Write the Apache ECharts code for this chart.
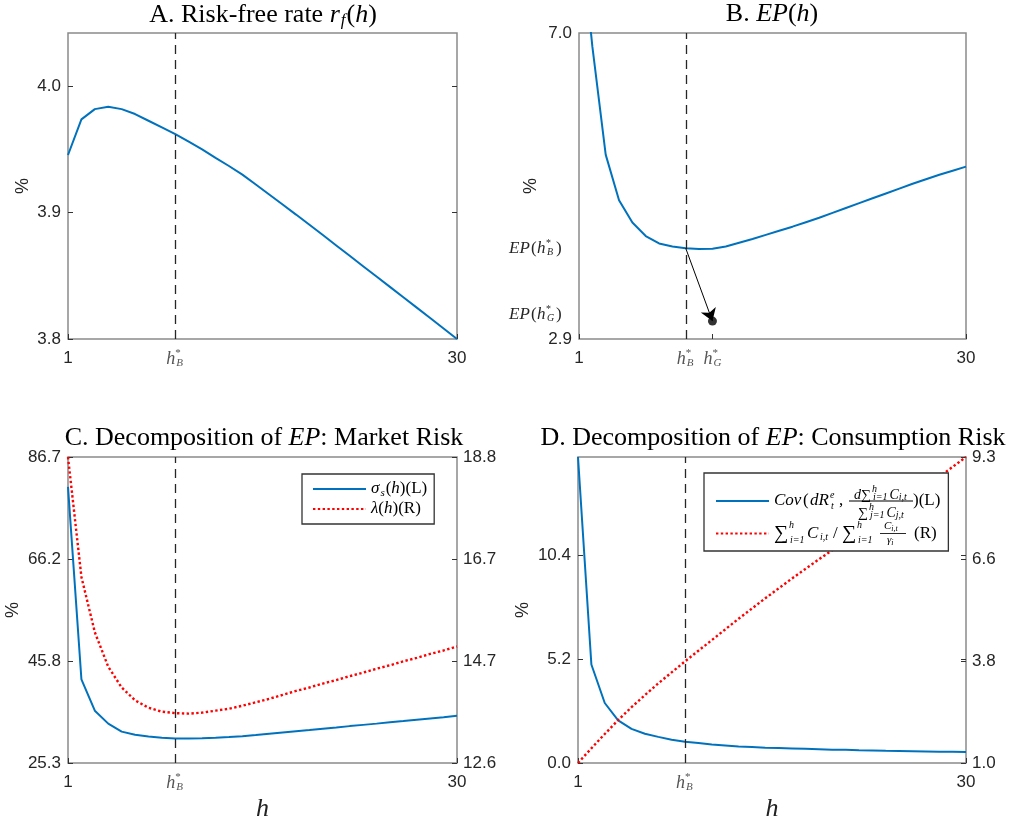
<!DOCTYPE html>
<html>
<head>
<meta charset="utf-8">
<script src="https://cdn.jsdelivr.net/npm/echarts@6/dist/echarts.min.js"></script>
<style>html,body{margin:0;padding:0;background:#fff}#c{width:1019px;height:825px}</style>
</head>
<body>
<div id="c"></div>
<script>
// ---------- data ----------
const hValues = [1,2,3,4,5,6,7,8,9,10,11,12,13,14,15,16,17,18,19,20,21,22,23,24,25,26,27,28,29,30];
const hStarB = 9;
const hStarG = 11;
const riskFreeRate = [3.9455,3.9737,3.9818,3.9836,3.9818,3.9779,3.9726,3.9673,3.962,3.956,3.950,3.9433,3.9368,3.930,3.9222,3.9143,3.9064,3.8984,3.8903,3.8822,3.874,3.8658,3.8576,3.8494,3.8412,3.833,3.8248,3.8166,3.8083,3.800];
const equityPremium = [8.6,6.82,5.37,4.76,4.46,4.28,4.18,4.14,4.115,4.105,4.11,4.14,4.19,4.24,4.295,4.35,4.405,4.465,4.525,4.59,4.655,4.72,4.785,4.85,4.915,4.98,5.04,5.10,5.155,5.21];
const epAtHG = 3.14;
const sigmaS = [80.7,42.1,35.8,33.2,31.6,30.97,30.63,30.37,30.23,30.2,30.25,30.38,30.52,30.68,30.9,31.15,31.4,31.65,31.9,32.17,32.43,32.7,32.95,33.2,33.47,33.73,34.0,34.25,34.5,34.77];
const lambdaH = [18.8,16.37,15.25,14.55,14.13,13.87,13.72,13.64,13.61,13.60,13.62,13.66,13.70,13.76,13.83,13.9,13.98,14.06,14.13,14.21,14.28,14.36,14.43,14.51,14.58,14.66,14.73,14.81,14.88,14.96];
const covConsumption = [15.35,4.94,3.01,2.14,1.71,1.47,1.31,1.17,1.07,1.0,0.93,0.88,0.83,0.80,0.77,0.75,0.73,0.71,0.69,0.67,0.66,0.64,0.63,0.61,0.60,0.59,0.58,0.57,0.56,0.55];
const consumptionRatio = [1.0,1.40,1.79,2.17,2.52,2.85,3.17,3.47,3.77,4.06,4.35,4.64,4.93,5.21,5.49,5.76,6.03,6.29,6.55,6.80,7.05,7.30,7.55,7.80,8.05,8.30,8.55,8.80,9.07,9.34];

// ---------- ticks ----------
const xTicks = [1, hStarB, 30];
const xTicksB = [1, hStarB, hStarG, 30];
const yRangeA = [3.8, 4.042];
const yTicksA = [3.8, 3.9, 4.0];
const yRangeB = [2.9, 7.0];
const yTicksCL = [25.3, 45.77, 66.23, 86.7];
const yTicksCR = [12.6, 14.67, 16.73, 18.8];
const yRangeDL = [0, 15.35];
const yTicksDL = [0, 5.2, 10.4];
const yTicksDR = [1.0, 3.78, 6.56, 9.34];

const epAtHB = equityPremium[hValues.indexOf(hStarB)];
const yTicksB = [2.9, epAtHG, epAtHB, 7.0];

const pairs = arr => hValues.map((h, i) => [h, arr[i]]);

// ---------- styles ----------
const SERIF = 'Liberation Serif';
const SANS = 'Liberation Sans';
const BLUE = '#0072BD';
const RED = '#ff0000';
const BOX = '#8a8a8a';
const TXT = '#262626';

const hRich = {
  hI: {fontFamily: SERIF, fontStyle: 'italic', fontSize: 18, color: '#555', lineHeight: 18, width: 9, align: 'left'},
  hSup: {fontFamily: SERIF, fontSize: 11, color: '#555', width: 1, lineHeight: 18, padding: [0, 0, 11, 0], align: 'left'},
  hSub: {fontFamily: SERIF, fontStyle: 'italic', fontSize: 11, color: '#555', lineHeight: 18, width: 8, padding: [9, 0, 0, 0], align: 'left'}
};
const near = (a, b) => Math.abs(a - b) < 1e-6;
function xFmt(v) {
  if (near(v, hStarB)) return '{hI|h}{hSup|*}{hSub|B}';
  if (near(v, hStarG)) return '{hI|h}{hSup|*}{hSub|G}';
  return String(Math.round(v));
}
const fmt1 = v => v.toFixed(1);

function xAxis(gi, ticks, withName) {
  return {
    type: 'value', gridIndex: gi, min: 1, max: 30,
    axisLine: {show: false},
    splitLine: {show: false},
    axisTick: {show: true, inside: true, length: 5, customValues: ticks, lineStyle: {color: '#333', width: 1}},
    axisLabel: {customValues: ticks, formatter: xFmt, color: TXT, fontFamily: SANS, fontSize: 17, margin: 11, rich: hRich},
    name: withName ? 'h' : '',
    nameLocation: 'middle', nameGap: 33, nameMoveOverlap: false,
    nameTextStyle: {fontFamily: SERIF, fontStyle: 'italic', fontSize: 26, color: '#222'}
  };
}
function yAxis(gi, min, max, ticks, opts) {
  opts = opts || {};
  return {
    type: 'value', gridIndex: gi, min: min, max: max,
    position: opts.position || 'left',
    axisLine: {show: false},
    splitLine: {show: false},
    axisTick: {show: opts.tickShow !== false, inside: true, length: 5, customValues: opts.tickValues || ticks, lineStyle: {color: '#333', width: 1}},
    axisLabel: {show: opts.labelShow !== false, customValues: ticks, formatter: opts.formatter || fmt1, color: TXT, fontFamily: SANS, fontSize: 17, margin: opts.margin || 7, rich: opts.rich},
    name: opts.name || '',
    nameLocation: 'middle', nameRotate: 90, nameGap: opts.nameGap || 40, nameMoveOverlap: false,
    nameTextStyle: {fontFamily: SANS, fontSize: 18, color: TXT}
  };
}

const epRich = {
  eI: {fontFamily: SERIF, fontStyle: 'italic', fontSize: 17, color: TXT, width: 22, align: 'left'},
  eN: {fontFamily: SERIF, fontSize: 17, color: TXT, width: 6, align: 'left'},
  eH: {fontFamily: SERIF, fontStyle: 'italic', fontSize: 17, color: TXT, width: 9, align: 'left'},
  eSup: {fontFamily: SERIF, fontSize: 10, color: TXT, width: 1, padding: [0, 0, 10, 0], align: 'left'},
  eSub: {fontFamily: SERIF, fontStyle: 'italic', fontSize: 10, color: TXT, width: 9, padding: [8, 0, 0, 0], align: 'left'},
  gI: {fontFamily: SERIF, fontStyle: 'italic', fontSize: 17, color: TXT, width: 22, padding: [0, 0, 14, 0], align: 'left'},
  gN: {fontFamily: SERIF, fontSize: 17, color: TXT, width: 6, padding: [0, 0, 14, 0], align: 'left'},
  gH: {fontFamily: SERIF, fontStyle: 'italic', fontSize: 17, color: TXT, width: 9, padding: [0, 0, 14, 0], align: 'left'},
  gSup: {fontFamily: SERIF, fontSize: 10, color: TXT, width: 1, padding: [0, 0, 24, 0], align: 'left'},
  gSub: {fontFamily: SERIF, fontStyle: 'italic', fontSize: 10, color: TXT, width: 9, padding: [8, 0, 14, 0], align: 'left'},
  gapR: {width: 10}
};
function yFmtB(v) {
  if (near(v, epAtHB)) return '{eI|EP}{eN|(}{eH|h}{eSup|*}{eSub|B}{eN|)}{gapR|}';
  if (near(v, epAtHG)) return '{gI|EP}{gN|(}{gH|h}{gSup|*}{gSub|G}{gN|)}{gapR|}';
  return v.toFixed(1);
}

const dashLine = {
  silent: true, symbol: ['none', 'none'], label: {show: false}, animation: false,
  lineStyle: {color: '#262626', type: [9, 6], width: 1.3},
  data: [{xAxis: hStarB}]
};

const titleRich = {
  mi: {fontFamily: SERIF, fontStyle: 'italic', fontSize: 26, color: '#000'},
  sub: {fontFamily: SERIF, fontStyle: 'italic', fontSize: 17, color: '#000', padding: [11, 1, 0, 1]}
};
function title(text, x, y) {
  return {text: text, left: x, top: y, textAlign: 'center', padding: 0,
    textStyle: {fontFamily: SERIF, fontSize: 26, fontWeight: 'normal', color: '#000', rich: titleRich}};
}

// legend C
const legCRich = {
  mi: {fontFamily: SERIF, fontStyle: 'italic', fontSize: 17, lineHeight: 20, color: '#000'},
  n: {fontFamily: SERIF, fontSize: 17, lineHeight: 20, color: '#000'},
  sb: {fontFamily: SERIF, fontStyle: 'italic', fontSize: 11, lineHeight: 20, color: '#000', padding: [8, 1, 0, 1]}
};
const legCText = {
  sigma: '{mi|σ}{sb|s}{n|(}{mi|h}{n|)(L)}',
  lambda: '{mi|λ}{n|(}{mi|h}{n|)(R)}'
};

// legend D
const legDRich = {
  p1: {width: 80, lineHeight: 12},
  p3: {width: 84, lineHeight: 12},
  nI: {fontFamily: SERIF, fontStyle: 'italic', fontSize: 14, lineHeight: 12, padding: [6, 0, 0, 0], color: '#000'},
  nS: {fontFamily: SERIF, fontSize: 14, lineHeight: 12, padding: [6, 1, 0, 0], color: '#000'},
  nSup: {fontFamily: SERIF, fontStyle: 'italic', fontSize: 10, lineHeight: 12, width: 1, padding: [0, 0, 6, 0], color: '#000'},
  nSub: {fontFamily: SERIF, fontStyle: 'italic', fontSize: 10, lineHeight: 12, padding: [10, 2, 0, 0], color: '#000'},
  cCov: {fontFamily: SERIF, fontStyle: 'italic', fontSize: 17, lineHeight: 6, width: 29, color: '#000'},
  cPar: {fontFamily: SERIF, fontSize: 17, lineHeight: 6, width: 7, color: '#000'},
  cdR: {fontFamily: SERIF, fontStyle: 'italic', fontSize: 17, lineHeight: 6, width: 20, color: '#000'},
  cSup: {fontFamily: SERIF, fontStyle: 'italic', fontSize: 10, lineHeight: 6, width: 1, padding: [0, 0, 12, 0], color: '#000'},
  cSub: {fontFamily: SERIF, fontStyle: 'italic', fontSize: 10, lineHeight: 6, width: 8, padding: [10, 0, 0, 0], color: '#000'},
  cCom: {fontFamily: SERIF, fontSize: 17, lineHeight: 6, width: 10, color: '#000'},
  cN: {fontFamily: SERIF, fontSize: 17, lineHeight: 6, color: '#000'},
  bar1: {width: 64, height: 0, lineHeight: 6, borderColor: '#000', borderWidth: 0.6},
  q1: {width: 110, lineHeight: 8},
  q3: {width: 113, lineHeight: 8},
  mI: {fontFamily: SERIF, fontStyle: 'italic', fontSize: 11, lineHeight: 8, color: '#000'},
  mSub: {fontFamily: SERIF, fontStyle: 'italic', fontSize: 8, lineHeight: 8, padding: [5, 0, 0, 0], color: '#000'},
  bigS: {fontFamily: SERIF, fontSize: 20, lineHeight: 6, width: 15, color: '#000'},
  sSup: {fontFamily: SERIF, fontStyle: 'italic', fontSize: 10, lineHeight: 6, width: 1, padding: [0, 0, 16, 0], color: '#000'},
  sSub: {fontFamily: SERIF, fontStyle: 'italic', fontSize: 10, lineHeight: 6, width: 17, padding: [14, 0, 0, 0], color: '#000'},
  sSub2: {fontFamily: SERIF, fontStyle: 'italic', fontSize: 10, lineHeight: 6, width: 22, padding: [14, 0, 0, 0], color: '#000'},
  dI: {fontFamily: SERIF, fontStyle: 'italic', fontSize: 17, lineHeight: 6, width: 13, color: '#000'},
  dSub: {fontFamily: SERIF, fontStyle: 'italic', fontSize: 10, lineHeight: 6, width: 13, padding: [8, 0, 0, 0], color: '#000'},
  dSl: {fontFamily: SERIF, fontSize: 17, lineHeight: 6, width: 9, color: '#000'},
  bar2: {width: 26, height: 0, lineHeight: 6, borderColor: '#000', borderWidth: 0.6},
  sp: {width: 8, lineHeight: 6},
  dR: {fontFamily: SERIF, fontSize: 17, lineHeight: 6, color: '#000'}
};
const legDText = {
  cov: '{p1|}{nI|d}{nS|∑}{nSup|h}{nSub|i=1}{nI|C}{nSub|i,t}\n' +
       '{cCov|Cov}{cPar|(}{cdR|dR}{cSup|e}{cSub|t}{cCom|,}{bar1|}{cN|)(L)}\n' +
       '{p3|}{nS|∑}{nSup|h}{nSub|j=1}{nI|C}{nSub|j,t}',
  ratio: '{q1|}{mI|C}{mSub|i,t}\n' +
         '{bigS|∑}{sSup|h}{sSub|i=1}{dI|C}{dSub|i,t}{dSl|/}{bigS|∑}{sSup|h}{sSub2|i=1}{bar2|}{sp|}{dR|(R)}\n' +
         '{q3|}{mI|γ}{mSub|i}'
};

const gridBase = {show: true, borderColor: BOX, borderWidth: 1.5, backgroundColor: 'transparent', containLabel: false};
const dotted = {color: RED, width: 2.4, type: [2.4, 2.4]};

const option = {
  animation: false,
  backgroundColor: '#fff',
  title: [
    title('A. Risk-free rate {mi|r}{sub|f}({mi|h})', 263, 1),
    title('B. {mi|EP}({mi|h})', 772, 1),
    title('C. Decomposition of {mi|EP}: Market Risk', 264, 425),
    title('D. Decomposition of {mi|EP}: Consumption Risk', 773, 425)
  ],
  grid: [
    Object.assign({left: 68, top: 33, width: 389, height: 306}, gridBase),
    Object.assign({left: 579, top: 33, width: 387, height: 306}, gridBase),
    Object.assign({left: 68, top: 457, width: 389, height: 306}, gridBase),
    Object.assign({left: 578, top: 457, width: 388, height: 306}, gridBase)
  ],
  legend: [
    {
      data: ['sigma', 'lambda'], left: 302, top: 474, orient: 'vertical',
      itemWidth: 53, itemHeight: 14, itemGap: 0, padding: [5, 7, 5, 10],
      borderColor: '#333', borderWidth: 1.3, backgroundColor: '#fff', selectedMode: false,
      itemStyle: {opacity: 0},
      formatter: n => legCText[n],
      textStyle: {fontFamily: SERIF, fontSize: 17, color: '#000', lineHeight: 20, rich: legCRich}
    },
    {
      data: ['cov', 'ratio'], left: 704, top: 473, orient: 'vertical',
      itemWidth: 53, itemHeight: 14, itemGap: -2, padding: [9, 8, 2, 11],
      borderColor: '#333', borderWidth: 1.3, backgroundColor: '#fff', selectedMode: false,
      itemStyle: {opacity: 0},
      formatter: n => legDText[n],
      textStyle: {fontFamily: SERIF, fontSize: 17, color: '#000', rich: legDRich}
    }
  ],
  xAxis: [
    xAxis(0, xTicks, false),
    xAxis(1, xTicksB, false),
    xAxis(2, xTicks, true),
    xAxis(3, xTicks, true)
  ],
  yAxis: [
    yAxis(0, yRangeA[0], yRangeA[1], yTicksA, {name: '%', nameGap: 36}),
    yAxis(0, yRangeA[0], yRangeA[1], yTicksA, {position: 'right', labelShow: false, tickValues: [3.9, 4.0]}),
    yAxis(1, yRangeB[0], yRangeB[1], yTicksB, {name: '%', nameGap: 39, formatter: yFmtB, rich: epRich, tickShow: false}),
    yAxis(2, yTicksCL[0], yTicksCL[3], yTicksCL, {name: '%', nameGap: 46}),
    yAxis(2, yTicksCR[0], yTicksCR[3], yTicksCR, {position: 'right', margin: 6}),
    yAxis(3, yRangeDL[0], yRangeDL[1], yTicksDL, {name: '%', nameGap: 46}),
    yAxis(3, yTicksDR[0], yTicksDR[3], yTicksDR, {position: 'right', margin: 6}),
    yAxis(3, yRangeDL[0], yRangeDL[1], yTicksDL, {position: 'right', labelShow: false, tickValues: [5.2, 10.4]})
  ],
  series: [
    {type: 'line', name: 'rf', xAxisIndex: 0, yAxisIndex: 0, data: pairs(riskFreeRate), symbol: 'none',
      lineStyle: {color: BLUE, width: 2}, itemStyle: {color: BLUE}, markLine: dashLine},
    {type: 'line', name: 'ep', xAxisIndex: 1, yAxisIndex: 2, data: pairs(equityPremium), symbol: 'none', clip: true,
      lineStyle: {color: BLUE, width: 2}, itemStyle: {color: BLUE}, markLine: dashLine},
    {type: 'scatter', name: 'epG', xAxisIndex: 1, yAxisIndex: 2, data: [[hStarG, epAtHG]], symbol: 'circle', symbolSize: 9,
      itemStyle: {color: '#000'}, z: 5,
      markLine: {silent: true, animation: false, symbol: ['none', 'arrow'], symbolSize: 12, label: {show: false},
        lineStyle: {color: '#000', type: 'solid', width: 1},
        data: [[{coord: [hStarB, epAtHB]}, {coord: [hStarG, epAtHG]}]]}},
    {type: 'line', name: 'sigma', xAxisIndex: 2, yAxisIndex: 3, data: pairs(sigmaS), symbol: 'none',
      lineStyle: {color: BLUE, width: 2}, itemStyle: {color: BLUE}, markLine: dashLine},
    {type: 'line', name: 'lambda', xAxisIndex: 2, yAxisIndex: 4, data: pairs(lambdaH), symbol: 'none',
      lineStyle: dotted, itemStyle: {color: RED}},
    {type: 'line', name: 'cov', xAxisIndex: 3, yAxisIndex: 5, data: pairs(covConsumption), symbol: 'none',
      lineStyle: {color: BLUE, width: 2}, itemStyle: {color: BLUE}, markLine: dashLine},
    {type: 'line', name: 'ratio', xAxisIndex: 3, yAxisIndex: 6, data: pairs(consumptionRatio), symbol: 'none',
      lineStyle: dotted, itemStyle: {color: RED}}
  ]
};

const chart = echarts.init(document.getElementById('c'), null, {renderer: 'canvas'});
chart.setOption(option);
</script>
</body>
</html>
